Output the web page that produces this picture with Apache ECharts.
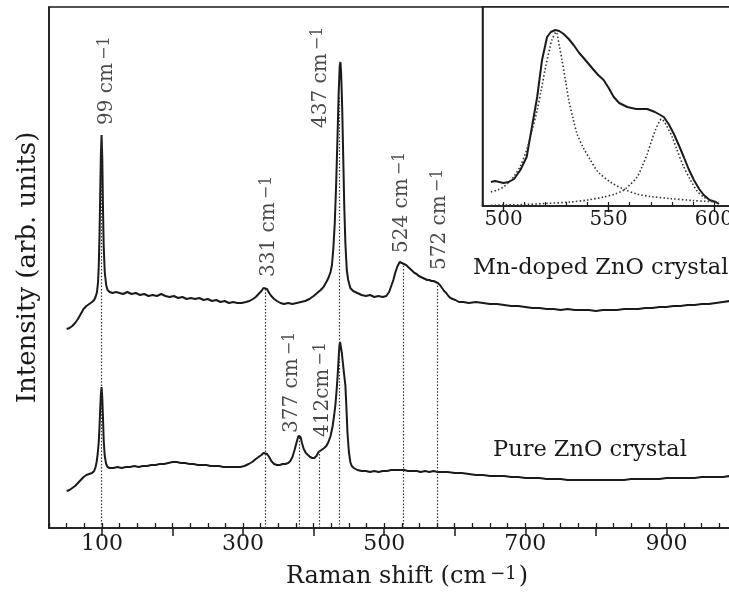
<!DOCTYPE html>
<html>
<head>
<meta charset="utf-8">
<script src="https://cdn.jsdelivr.net/npm/echarts@6/dist/echarts.min.js"></script>
<style>
html,body{margin:0;padding:0;background:#fff;}
#main{width:729px;height:598px;}
</style>
</head>
<body>
<div id="main"></div>
<script>
// ---- data (arbitrary intensity units) ----
const mnDoped = [[50,199],[54,200],[58,202],[62,205],[66,209],[70,214],[74,219],[78,222],[82,224],[86,226],[89,228],[91,231],[93,236],[94.5,246],[95.5,262],[96.5,290],[97.5,330],[98.5,372],[99.5,393],[100.5,370],[101.5,320],[102.5,282],[104,256],[106,243],[108,238],[111,236],[115,235],[120,236],[125,235],[130,234],[136,236],[142,234],[148,235],[154,233],[160,234],[166,232],[172,233],[178,232],[184,234],[190,232],[196,231],[202,232],[208,230],[214,231],[220,229],[226,230],[232,229],[238,230],[244,228],[250,229],[256,227],[262,228],[268,226],[274,227],[280,225],[286,226],[292,225],[298,225],[304,226],[309,227],[314,229],[318,231],[322,234],[326,237],[329,240],[331.5,241],[334,239],[337,235],[340,232],[344,229],[348,227],[353,225],[358,224],[364,225],[370,224],[376,225],[382,226],[388,227],[394,229],[400,232],[405,235],[410,238],[414,241],[418,246],[421,250],[424,256],[426,263],[428,280],[430,305],[432,345],[434,395],[435.5,435],[437,462],[438,466],[439,455],[440.5,420],[442,370],[443.5,320],[445,285],[447,258],[449,248],[452,240],[456,237],[462,235],[468,233],[474,232],[480,233],[486,231],[492,232],[498,231],[503,232],[507,236],[510,242],[513,248],[516,256],[519,262],[522,266],[525,265],[528,264],[531,263],[534,261],[537,259],[540,257],[543,255],[546,254],[549,252],[552,251],[555,250],[558,249],[561,248],[564,248],[567,247],[570,247],[573,246],[576,245],[579,243],[582,240],[585,237],[588,235],[591,232],[594,230],[597,229],[601,228],[606,226],[612,226],[620,225],[630,226],[640,225],[650,224],[660,224],[670,223],[680,222],[690,222],[700,221],[710,220],[720,220],[730,219],[740,219],[750,218],[760,219],[770,218],[780,218],[790,218],[800,217],[810,218],[820,218],[830,218],[840,219],[850,219],[860,219],[870,220],[880,220],[890,221],[900,221],[910,222],[920,222],[930,223],[940,223],[950,224],[960,224],[970,225],[980,226],[990,227],[1000,227]];

const pureZnO = [[50,37],[54,38],[58,40],[62,42],[66,45],[70,48],[74,51],[78,53],[82,54],[86,55],[89,57],[91,61],[92.5,66],[94,74],[95.5,86],[96.5,100],[97.5,118],[98.5,133],[99.5,141],[100.5,130],[101.5,110],[102.5,88],[104,72],[106,64],[108,61],[111,60],[116,60],[122,61],[128,60],[134,61],[140,61],[146,62],[152,61],[158,62],[164,62],[170,63],[176,63],[182,64],[188,64],[194,65],[200,66],[206,66],[212,65],[218,65],[224,64],[230,64],[236,63],[242,63],[248,63],[254,62],[260,62],[266,62],[272,61],[278,61],[284,61],[290,61],[296,61],[302,62],[308,64],[313,66],[318,69],[322,71],[326,73],[329,75],[331.5,75],[334,74],[337,71],[340,67],[344,64],[348,63],[352,63],[356,64],[360,64],[364,65],[367,67],[370,71],[373,78],[376,86],[378.5,92],[380,93],[381.5,91],[383.5,85],[386,79],[389,75],[392,73],[395,71],[398,70],[401,70],[404,72],[407,76],[409,78],[411,78],[413,79],[415,80],[418,82],[421,86],[424,92],[427,102],[429,112],[431,124],[432.5,137],[434,152],[435.5,170],[436.5,182],[437.5,186],[438.5,184],[440,175],[441.5,165],[443,155],[445,143],[446.5,120],[448,95],[450,76],[452,66],[454,62],[457,60],[462,58],[468,57],[474,57],[480,56],[486,57],[492,56],[498,57],[504,57],[510,58],[516,58],[522,58],[528,58],[534,57],[540,57],[546,57],[552,56],[558,57],[564,56],[570,57],[576,56],[582,56],[590,56],[600,55],[610,55],[620,54],[630,53],[640,53],[650,52],[660,52],[670,52],[680,51],[690,51],[700,50],[710,50],[720,50],[730,49],[740,49],[750,49],[760,48],[770,48],[780,48],[790,48],[800,48],[810,48],[820,48],[830,48],[840,48],[850,49],[860,49],[870,49],[880,49],[890,49],[900,50],[910,50],[920,50],[930,50],[940,50],[950,51],[960,51],[970,51],[980,51],[990,52],[1000,52]];

// peak marker lines (dotted)
const peakLineX   = [99.5, 331.5, 380, 408, 437, 526.5, 575];
const peakLineTop = [393, 240, 93, 78, 431, 263, 245];

// peak labels
const peakLabelText = ['99', '331', '437', '524', '572', '377', '412'];
const peakLabelSep  = [' ', ' ', ' ', ' ', ' ', ' ', ''];
const peakLabelX    = [107.5, 336.5, 409.5, 525.5, 579.5, 368.5, 413.5];
const peakLabelY    = [403, 251, 400, 275, 258, 95, 91];

// inset: 500-600 cm-1 band of Mn-doped sample
const insetMeasured = [[494,24],[496,25],[498,24],[500,23],[502.5,24],[505,27],[508,36],[511,49],[513.5,79],[516,109],[518.3,146],[520.7,169],[522.5,174],[524.6,176],[526.5,175],[528.6,172],[531,167],[533.3,161],[536,153],[538.9,146],[542.9,136],[545,131],[547.6,126],[550,118],[552.4,109],[555,103],[558.8,99],[563,97],[568.3,97],[572,94],[576.2,89],[578.5,82],[581,72],[583.5,60],[585.7,49],[588,37],[590.5,26],[593,17],[595.2,11],[598,6],[600.8,4],[602.4,2]];
const insetFit1 = [[494,14],[497,16],[500,19],[502.5,24],[504.8,29],[508,40],[511,56],[513.5,75],[516,96],[518,117],[520,139],[522,158],[523,166],[525,174],[526.5,160],[527.8,146],[529.5,125],[531,106],[533,88],[535,72],[538,58],[541.3,46],[545,34],[550.8,24],[557,17],[563.5,12],[570,9.5],[579.4,7.4],[590,5.5],[601.6,4]];
const insetFit2 = [[494,0.7],[510,1.5],[520,2.5],[531.8,4],[540,6],[547.6,9],[553,12],[557,15.7],[560,21],[563.5,29],[566,40],[568.3,52],[570.5,66],[572.2,76],[574,84],[575,87],[576.5,84],[577.8,79],[580,70],[582.5,56],[585.5,40],[588.9,26],[592,15],[595.2,9],[599,5],[602.4,4]];

// axis tick labels
const mainTickLabels  = [100, 300, 500, 700, 900];
const mainMajorTicks  = [100, 200, 300, 400, 500, 600, 700, 800, 900, 1000];
const insetTickLabels = [500, 550, 600];

// ---- chart ----
const FONT = "'DejaVu Serif', 'Liberation Serif', serif";
const INK = '#1a1a1a';
const chart = echarts.init(document.getElementById('main'), null, {renderer: 'canvas'});

const supRich = {
  n: {fontFamily: FONT, fontSize: 20, color: INK, lineHeight: 20, verticalAlign: 'bottom'},
  s: {fontFamily: FONT, fontSize: 16, color: INK, lineHeight: 16, verticalAlign: 'top', padding: [0, 0, 13, 3]}
};

const labelData = peakLabelText.map((t, i) => ({
  value: [peakLabelX[i], peakLabelY[i]],
  name: t + peakLabelSep[i]
}));

const markLines = peakLineX.map((x, i) => [{coord: [x, 0]}, {coord: [x, peakLineTop[i]]}]);

chart.setOption({
  animation: false,
  backgroundColor: '#fff',
  grid: [
    {left: 49, top: 7, right: -8, bottom: 70, show: true, borderColor: INK, borderWidth: 1.5, backgroundColor: 'transparent', outerBoundsMode: 'none', containLabel: false},
    {left: 482.5, top: 7, right: -8, height: 199, show: true, borderColor: INK, borderWidth: 1.5, backgroundColor: '#fff', outerBoundsMode: 'none', containLabel: false}
  ],
  xAxis: [
    {
      gridIndex: 0, type: 'value', min: 25, max: 1000,
      axisLine: {show: true, onZero: false, lineStyle: {color: INK, width: 1.5}},
      axisTick: {show: true, length: 8, customValues: mainMajorTicks, lineStyle: {color: INK, width: 1.5}},
      axisLabel: {show: true, customValues: mainTickLabels, margin: 5, fontFamily: FONT, fontSize: 22, color: INK},
      splitLine: {show: false},
      name: '{n|Raman shift (cm}{s|−1}{n|)}',
      nameLocation: 'middle', nameGap: 37,
      nameTextStyle: {padding: [0, 0, 0, 28], rich: {
        n: {fontFamily: FONT, fontSize: 24, color: INK, lineHeight: 24, verticalAlign: 'bottom'},
        s: {fontFamily: FONT, fontSize: 18, color: INK, lineHeight: 18, verticalAlign: 'top', padding: [0, 2, 14, 4]}
      }}
    },
    {
      gridIndex: 0, type: 'value', min: 25, max: 1000, interval: 25,
      axisLine: {show: false},
      axisTick: {show: true, length: 5, lineStyle: {color: INK, width: 1.3}},
      axisLabel: {show: false}, splitLine: {show: false}
    },
    {
      gridIndex: 1, type: 'value', min: 490, max: 611,
      axisLine: {show: true, onZero: false, lineStyle: {color: INK, width: 1.5}},
      axisTick: {show: true, length: 6, customValues: insetTickLabels, lineStyle: {color: INK, width: 1.4}},
      axisLabel: {show: true, customValues: insetTickLabels, margin: 4, fontFamily: FONT, fontSize: 20, color: INK},
      splitLine: {show: false}
    },
    {
      gridIndex: 1, type: 'value', min: 490, max: 611, interval: 10,
      axisLine: {show: false},
      axisTick: {show: true, length: 4, lineStyle: {color: INK, width: 1.2}},
      axisLabel: {show: false}, splitLine: {show: false}
    }
  ],
  yAxis: [
    {
      gridIndex: 0, type: 'value', min: 0, max: 521,
      axisLine: {show: true, lineStyle: {color: INK, width: 1.5}},
      axisTick: {show: false}, axisLabel: {show: false}, splitLine: {show: false},
      name: 'Intensity (arb. units)', nameLocation: 'middle', nameRotate: 90, nameGap: 8,
      nameTextStyle: {fontFamily: FONT, fontSize: 26, color: INK}
    },
    {
      gridIndex: 1, type: 'value', min: 0, max: 199,
      axisLine: {show: true, lineStyle: {color: INK, width: 1.5}},
      axisTick: {show: false}, axisLabel: {show: false}, splitLine: {show: false}
    }
  ],
  series: [
    {
      type: 'line', xAxisIndex: 0, yAxisIndex: 0, data: mnDoped, showSymbol: false, symbol: 'none',
      lineStyle: {color: INK, width: 2}, z: 3,
      markLine: {
        silent: true, symbol: ['none', 'none'], label: {show: false},
        lineStyle: {color: '#333', width: 1.2, type: [1.5, 1.8]},
        data: markLines
      }
    },
    {
      type: 'line', xAxisIndex: 0, yAxisIndex: 0, data: pureZnO, showSymbol: false, symbol: 'none',
      lineStyle: {color: INK, width: 2}, z: 3
    },
    {
      type: 'scatter', xAxisIndex: 0, yAxisIndex: 0, symbolSize: 0, data: labelData, z: 5,
      label: {
        show: true, position: 'inside', rotate: 90, align: 'left', verticalAlign: 'middle',
        formatter: p => '{n|' + p.name + 'cm}{s|−1}',
        rich: supRich
      }
    },
    {
      type: 'line', xAxisIndex: 2, yAxisIndex: 1, data: insetMeasured, showSymbol: false, symbol: 'none',
      lineStyle: {color: INK, width: 2}, z: 4
    },
    {
      type: 'line', xAxisIndex: 2, yAxisIndex: 1, data: insetFit1, showSymbol: false, symbol: 'none', smooth: 0.3,
      lineStyle: {color: '#333', width: 1.6, type: [1.5, 2.2]}, z: 4
    },
    {
      type: 'line', xAxisIndex: 2, yAxisIndex: 1, data: insetFit2, showSymbol: false, symbol: 'none', smooth: 0.3,
      lineStyle: {color: '#333', width: 1.6, type: [1.5, 2.2]}, z: 4
    }
  ],
  graphic: [
    {type: 'text', left: 473, top: 257, style: {text: 'Mn-doped ZnO crystal', font: "22.5px 'DejaVu Serif', 'Liberation Serif', serif", fill: INK}},
    {type: 'text', left: 493, top: 439, style: {text: 'Pure ZnO crystal', font: "22.5px 'DejaVu Serif', 'Liberation Serif', serif", fill: INK}}
  ]
});
</script>
</body>
</html>
